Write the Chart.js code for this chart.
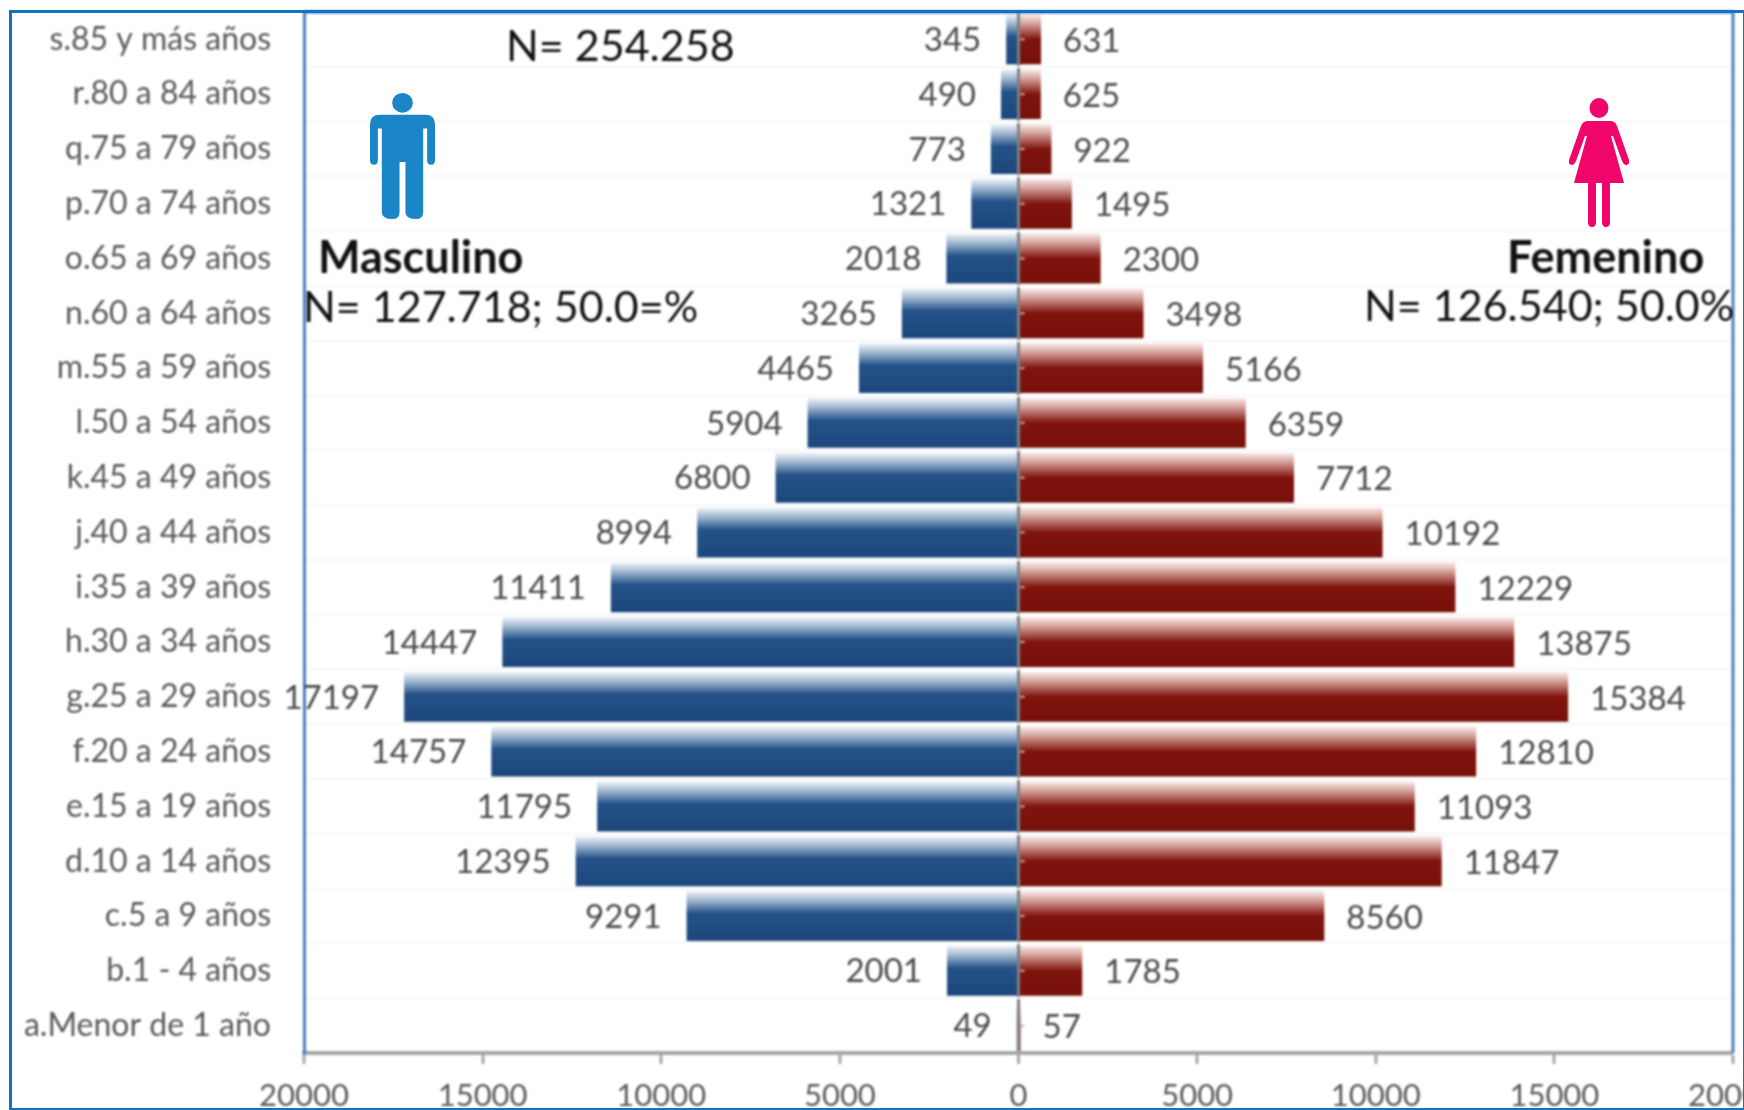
<!DOCTYPE html>
<html lang="es">
<head>
<meta charset="utf-8">
<title>Pirámide de población</title>
<script src="https://cdn.jsdelivr.net/npm/chart.js@4"></script>
<style>
  html, body { margin: 0; padding: 0; background: #fff; overflow: hidden; }
  #wrap { position: relative; width: 1744px; height: 1110px; overflow: hidden; }
  #pyramid { position: absolute; left: 0; top: 0; filter: blur(0.8px); }
  #frame { position: absolute; left: 9px; top: 10px; width: 1731px; height: 1095px; border: 3px solid #1272c4; pointer-events: none; }
  .icon { position: absolute; filter: blur(0.6px); }
</style>
</head>
<body>
<div id="wrap">
  <canvas id="pyramid" width="1744" height="1110"></canvas>
  <div id="frame"></div>
  <svg class="icon" style="left:370px;top:92px" width="65" height="128" viewBox="0 0 66 128">
    <ellipse cx="33" cy="10" rx="10.5" ry="10" fill="#1a86c8"/>
    <path d="M10 22 H56 Q66 22 66 32 V68 Q66 73 62 73 Q58 73 58 68 V36 H54 V121 Q54 128 47 128 Q36 128 36 121 V70 H30 V121 Q30 128 23 128 Q12 128 12 121 V36 H8 V68 Q8 73 4 73 Q0 73 0 68 V32 Q0 22 10 22 Z" fill="#1a86c8"/>
  </svg>
  <svg class="icon" style="left:1569px;top:98px" width="60" height="129" viewBox="0 0 60 129">
    <ellipse cx="30" cy="10" rx="9.5" ry="10" fill="#f0056a"/>
    <path d="M19 23 H41 Q46 23 48 28 L60 62 Q61 67 57 67 Q55 67 53 63 L44 38 L42 38 L55 85 H41 V124 Q41 129 37 129 Q33 129 33 124 V85 H27 V124 Q27 129 23 129 Q19 129 19 124 V85 H5 L18 38 L16 38 L7 63 Q5 67 3 67 Q-1 67 0 62 L12 28 Q14 23 19 23 Z" fill="#f0056a"/>
  </svg>
</div>
<script>
// Age groups, top of the pyramid first
const ageGroups = [
  's.85 y más años', 'r.80 a 84 años', 'q.75 a 79 años', 'p.70 a 74 años', 'o.65 a 69 años',
  'n.60 a 64 años', 'm.55 a 59 años', 'l.50 a 54 años', 'k.45 a 49 años', 'j.40 a 44 años',
  'i.35 a 39 años', 'h.30 a 34 años', 'g.25 a 29 años', 'f.20 a 24 años', 'e.15 a 19 años',
  'd.10 a 14 años', 'c.5 a 9 años', 'b.1 - 4 años', 'a.Menor de 1 año'
];
const masculino = [345, 490, 773, 1321, 2018, 3265, 4465, 5904, 6800, 8994, 11411, 14447, 17197, 14757, 11795, 12395, 9291, 2001, 49];
const femenino = [631, 625, 922, 1495, 2300, 3498, 5166, 6359, 7712, 10192, 12229, 13875, 15384, 12810, 11093, 11847, 8560, 1785, 57];
const xTicks = [-20000, -15000, -10000, -5000, 0, 5000, 10000, 15000, 20000];

const FONT = 'Lato, sans-serif';
const BLUE_STOPS = [[0, '#f0f4f8'], [0.18, '#a3bad2'], [0.45, '#245288'], [1, '#1c477c']];
const RED_STOPS = [[0, '#f9ecea'], [0.18, '#d6a39c'], [0.5, '#7f140d'], [1, '#77110a']];

// Captions sitting on top of the plot
const captions = [
  { text: 'N= 254.258', x: 506, y: 47, size: 43, weight: 'normal' },
  { text: 'Masculino', x: 318, y: 258, size: 45, weight: 'bold' },
  { text: 'N= 127.718; 50.0=%', x: 303, y: 308, size: 43, weight: 'normal' },
  { text: 'Femenino', x: 1507, y: 258, size: 45, weight: 'bold' },
  { text: 'N= 126.540; 50.0%', x: 1364, y: 307, size: 43, weight: 'normal' }
];

function barGradient(context, stops) {
  const { chart, dataIndex } = context;
  if (!chart.chartArea || !chart.scales.y) return stops[stops.length - 1][1];
  const centre = chart.scales.y.getPixelForValue(dataIndex);
  const half = chart.scales.y.getPixelForTick(1) - chart.scales.y.getPixelForTick(0);
  const g = chart.ctx.createLinearGradient(0, centre - half * 0.455, 0, centre + half * 0.455);
  stops.forEach(s => g.addColorStop(s[0], s[1]));
  return g;
}

const pyramidDecor = {
  id: 'pyramidDecor',
  afterDraw(chart) {
    const { ctx, chartArea, scales } = chart;

    // blue plot edges (left edge comes from the y axis border)
    ctx.save();
    ctx.strokeStyle = '#4a7ebb';
    ctx.lineWidth = 3;
    ctx.beginPath();
    ctx.moveTo(chartArea.left, chartArea.top);
    ctx.lineTo(chartArea.right, chartArea.top);
    ctx.lineTo(chartArea.right, chartArea.bottom);
    ctx.stroke();

    // small tick marks of the category axis, right of zero
    const zero = scales.x.getPixelForValue(0);
    ctx.strokeStyle = '#c9b5b5';
    ctx.lineWidth = 2;
    ageGroups.forEach((_, i) => {
      const y = scales.y.getPixelForValue(i);
      ctx.beginPath();
      ctx.moveTo(zero + 2, y);
      ctx.lineTo(zero + 6, y);
      ctx.stroke();
    });

    // value labels beside the bars
    ctx.font = '33px ' + FONT;
    ctx.fillStyle = '#4a4a4a';
    ctx.textBaseline = 'middle';
    ctx.textAlign = 'right';
    masculino.forEach((v, i) => {
      ctx.fillText(String(v), scales.x.getPixelForValue(-v) - 25, scales.y.getPixelForValue(i) + 1);
    });
    ctx.textAlign = 'left';
    femenino.forEach((v, i) => {
      ctx.fillText(String(v), scales.x.getPixelForValue(v) + 22, scales.y.getPixelForValue(i) + 2);
    });

    // captions
    ctx.fillStyle = '#111';
    captions.forEach(c => {
      ctx.font = c.weight + ' ' + c.size + 'px ' + FONT;
      ctx.fillText(c.text, c.x, c.y);
    });
    ctx.restore();
  }
};

new Chart(document.getElementById('pyramid'), {
  type: 'bar',
  data: {
    labels: ageGroups,
    datasets: [
      {
        label: 'Masculino',
        data: masculino.map(v => -v),
        backgroundColor: c => barGradient(c, BLUE_STOPS)
      },
      {
        label: 'Femenino',
        data: femenino,
        backgroundColor: c => barGradient(c, RED_STOPS)
      }
    ]
  },
  options: {
    indexAxis: 'y',
    responsive: false,
    animation: false,
    devicePixelRatio: 1,
    barPercentage: 0.91,
    categoryPercentage: 1,
    layout: { padding: { left: 10, top: 12, right: 11, bottom: 0 } },
    plugins: { legend: { display: false }, tooltip: { enabled: false } },
    scales: {
      x: {
        stacked: true,
        min: -20000,
        max: 20000,
        afterBuildTicks: scale => { scale.ticks = xTicks.map(value => ({ value })); },
        afterFit: scale => {
          scale.height = 57;
          scale.paddingLeft = 0;
          scale.paddingRight = 0;
        },
        border: { color: '#a6a6a6', width: 4 },
        grid: {
          drawOnChartArea: true,
          color: c => (c.tick && c.tick.value === 0 ? '#808080' : 'rgba(0,0,0,0)'),
          lineWidth: c => (c.tick && c.tick.value === 0 ? 3 : 0),
          tickColor: '#a6a6a6',
          tickWidth: 3,
          tickLength: 11
        },
        ticks: {
          color: '#595959',
          font: { family: FONT, size: 31 },
          padding: 13,
          maxRotation: 0,
          minRotation: 0,
          autoSkip: false,
          callback: v => String(Math.abs(v))
        }
      },
      y: {
        stacked: true,
        afterFit: scale => {
          scale.width = 294;
          scale.paddingTop = 0;
          scale.paddingBottom = 0;
        },
        border: { color: '#4a7ebb', width: 3 },
        grid: { color: '#f7f7f7', lineWidth: 2, drawTicks: false },
        ticks: {
          color: '#595959',
          font: { family: FONT, size: 32 },
          padding: 33,
          autoSkip: false
        }
      }
    }
  },
  plugins: [pyramidDecor]
});
</script>
</body>
</html>
